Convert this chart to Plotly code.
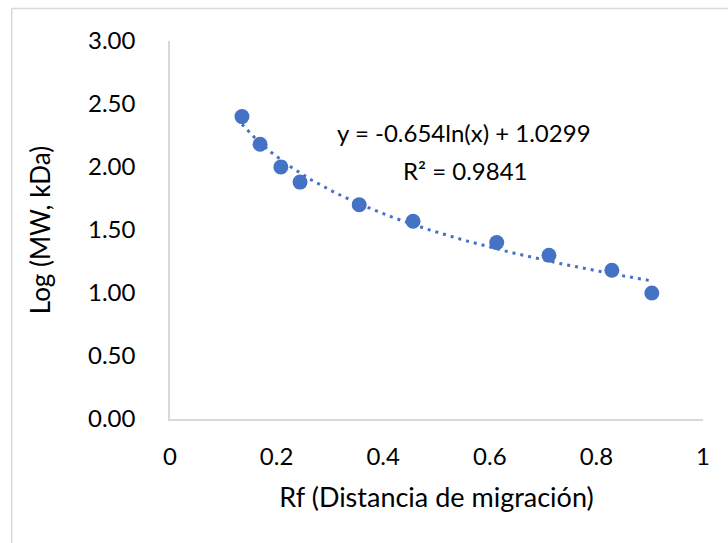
import numpy as np
import plotly.graph_objects as go

# Relative migration (Rf) and log10 of molecular weight (kDa) of the ladder bands
rf = [0.135, 0.169, 0.208, 0.244, 0.355, 0.456, 0.613, 0.711, 0.829, 0.904]
log_mw = [2.40, 2.18, 2.00, 1.88, 1.70, 1.57, 1.40, 1.30, 1.18, 1.00]

# Logarithmic trendline coefficients
slope = -0.654
intercept = 1.0299
r2 = 0.9841

x_ticks = [0, 0.2, 0.4, 0.6, 0.8, 1]
x_tick_text = ["0", "0.2", "0.4", "0.6", "0.8", "1"]
y_ticks = [0, 0.5, 1.0, 1.5, 2.0, 2.5, 3.0]
y_tick_text = ["0.00", "0.50", "1.00", "1.50", "2.00", "2.50", "3.00"]

blue = "#4472C4"
axis_grey = "#D9D9D9"
font_family = "Lato, Carlito, Calibri, sans-serif"

x_fit = np.linspace(min(rf), max(rf), 200)
y_fit = slope * np.log(x_fit) + intercept

fig = go.Figure()
fig.add_trace(go.Scatter(
    x=x_fit, y=y_fit, mode="lines",
    line=dict(color=blue, width=3, dash="3px,5px"),
    hoverinfo="skip", showlegend=False,
))
fig.add_trace(go.Scatter(
    x=rf, y=log_mw, mode="markers",
    marker=dict(color=blue, size=15, line=dict(width=0)),
    showlegend=False,
))

# Trendline equation and coefficient of determination
label_font = dict(family=font_family, size=24, color="#000000")
fig.add_annotation(
    x=0.552, y=2.27, xref="x", yref="y",
    text=f"y = {slope}ln(x) + {intercept}",
    showarrow=False, font=label_font,
)
fig.add_annotation(
    x=0.555, y=1.975, xref="x", yref="y",
    text=f"R² = {r2}",
    showarrow=False, font=label_font,
)

# Chart-area frame
frame = dict(color=axis_grey, width=1.5)
fig.add_shape(type="line", xref="paper", yref="paper",
              x0=-0.297, x1=1.1, y0=1.086, y1=1.086, line=frame)
fig.add_shape(type="line", xref="paper", yref="paper",
              x0=-0.297, x1=-0.297, y0=1.086, y1=-0.4, line=frame)

fig.update_layout(
    width=728, height=543,
    margin=dict(l=170, r=25, t=41, b=124),
    paper_bgcolor="white", plot_bgcolor="white",
    font=dict(family=font_family, size=24, color="#000000"),
    xaxis=dict(
        range=[0, 1], tickvals=x_ticks, ticktext=x_tick_text,
        showgrid=False, zeroline=False,
        showline=True, linecolor=axis_grey, linewidth=1.5,
        ticks="", ticklabelstandoff=15,
        tickfont=dict(size=24),
        title=dict(text="Rf (Distancia de migración)", standoff=20,
                   font=dict(size=27)),
    ),
    yaxis=dict(
        range=[0, 3], tickvals=y_ticks, ticktext=y_tick_text,
        showgrid=False, zeroline=False,
        showline=True, linecolor=axis_grey, linewidth=1.5,
        ticks="", ticklabelstandoff=28,
        tickfont=dict(size=24),
        title=dict(text="Log (MW, kDa)", standoff=30,
                   font=dict(size=26)),
    ),
)

fig.write_html("out.html")
